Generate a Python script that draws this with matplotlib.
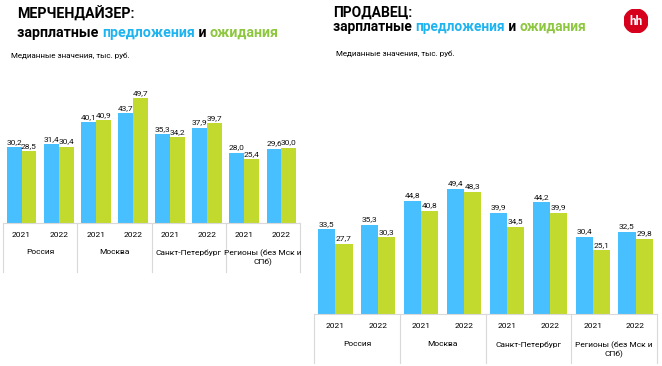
import numpy as np
import matplotlib
matplotlib.use("Agg")
import matplotlib.pyplot as plt
from matplotlib.patches import Circle
import matplotlib.transforms as mtransforms

W, H = 662, 366
DPI = 100

BLUE = "#48BFFF"
GREEN = "#C2D92E"
TITLE_BLUE = "#1EB4F0"
TITLE_GREEN = "#8DC63F"
GRID = "#D9D9D9"

plt.rcParams["font.family"] = ["Roboto", "DejaVu Sans"]

# ----- data -----
regions = ["Россия", "Москва", "Санкт-Петербург", "Регионы (без Мск и\nСПб)"]
years = ["2021", "2022"]

merch_offer = [30.2, 31.4, 40.1, 43.7, 35.3, 37.9, 28.0, 29.6]
merch_expect = [28.5, 30.4, 40.9, 49.7, 34.2, 39.7, 25.4, 30.0]

seller_offer = [33.5, 35.3, 44.8, 49.4, 39.9, 44.2, 30.4, 32.5]
seller_expect = [27.7, 30.3, 40.8, 48.3, 34.5, 39.9, 25.1, 29.8]


def px_axes(fig, x0, x1, y_base, y_top):
    # pixel box (from top-left) -> figure fraction
    return fig.add_axes([x0 / W, (H - y_base) / H, (x1 - x0) / W, (y_base - y_top) / H])


def fmt(v):
    return f"{v:.1f}".replace(".", ",")


def draw_panel(ax, offer, expect, ppu, sep_bottom_px, y_year_px, y_reg_px):
    n = len(offer)
    x = np.arange(n)
    ax.bar(x - 0.2, offer, width=0.4, color=BLUE, zorder=2)
    ax.bar(x + 0.2, expect, width=0.4, color=GREEN, zorder=2)
    ax.set_xlim(-0.5, n - 0.5)
    ax.set_ylim(0, 52)
    ax.axis("off")

    lab_off = 2.5 / ppu
    for xi, v in zip(x - 0.2, offer):
        ax.text(xi, v + lab_off, fmt(v), ha="center", va="bottom", fontsize=6, color="#111111")
    for xi, v in zip(x + 0.2, expect):
        ax.text(xi, v + lab_off, fmt(v), ha="center", va="bottom", fontsize=6, color="#111111")

    # axis line and separators in pixel terms, below axes
    bbox = ax.get_position()
    base_fig = bbox.y0
    trans = mtransforms.blended_transform_factory(ax.transData, ax.figure.transFigure)
    bottom = (H - sep_bottom_px) / H
    ax.plot([-0.5, n - 0.5], [base_fig, base_fig], color=GRID, lw=0.8, transform=trans, clip_on=False)
    for s in np.arange(-0.5, n, 2):
        ax.plot([s, s], [base_fig, bottom], color=GRID, lw=0.8, transform=trans, clip_on=False)

    yy = (H - y_year_px) / H
    yr = (H - y_reg_px) / H
    for i in range(n):
        ax.text(i, yy, years[i % 2], ha="center", va="center", fontsize=6, transform=trans)
    for g, name in enumerate(regions):
        ax.text(2 * g + 0.5, yr, name, ha="center", va="top", fontsize=6,
                transform=trans, linespacing=1.3)


fig = plt.figure(figsize=(W / DPI, H / DPI), dpi=DPI)

# left panel: merchandiser
ppu = 2.51
axL = px_axes(fig, 3, 300, 223, 223 - 52 * ppu)
draw_panel(axL, merch_offer, merch_expect, ppu, 272, 235, 249)

# right panel: seller
ppu = 2.53
axR = px_axes(fig, 314, 657, 314, 314 - 52 * ppu)
draw_panel(axR, seller_offer, seller_expect, ppu, 363, 326, 341)


def title(x, y1, y2, head, fs1, fs2):
    fig.text(x / W, 1 - y1 / H, head, fontsize=fs1, fontweight="bold", va="center", ha="left")
    parts = [("зарплатные ", "black"), ("предложения", TITLE_BLUE), (" и ", "black"), ("ожидания", TITLE_GREEN)]
    fig.canvas.draw()
    r = fig.canvas.get_renderer()
    cx = x
    for txt, col in parts:
        tt = fig.text(cx / W, 1 - y2 / H, txt, fontsize=fs2, fontweight="bold",
                      color=col, va="center", ha="left")
        bb = tt.get_window_extent(renderer=r)
        cx += bb.width


title(17, 14, 33, "МЕРЧЕНДАЙЗЕР:", 10.3, 10.3)
title(333, 13, 27, "ПРОДАВЕЦ:", 10, 9.9)
fig.text(11 / W, 1 - 56 / H, "Медианные значения, тыс. руб.", fontsize=5.8, va="center")
fig.text(336 / W, 1 - 54 / H, "Медианные значения, тыс. руб.", fontsize=5.8, va="center")

# hh logo
logo = fig.add_axes([(636 - 12) / W, (H - 21 - 12) / H, 24 / W, 24 / H])
logo.set_xlim(-1, 1)
logo.set_ylim(-1, 1)
logo.set_aspect("equal")
logo.axis("off")
logo.add_patch(Circle((0, 0), 1, color="#D6001C"))
logo.text(0, -0.05, "hh", color="white", fontsize=8.5, fontweight="bold", ha="center", va="center")

fig.savefig("out.png", dpi=DPI)
